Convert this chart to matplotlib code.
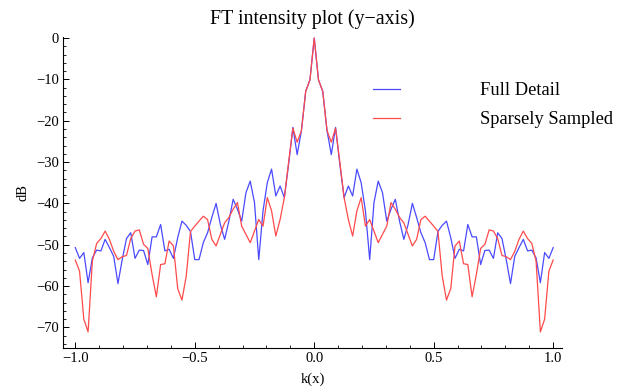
import numpy as np
import matplotlib
matplotlib.use("Agg")
import matplotlib.pyplot as plt
from matplotlib.ticker import MultipleLocator

# sample positions: k = n/56, n = -56..56
n_idx = np.arange(-56, 57)
kx = n_idx / 56.0

# Full Detail (blue), listed from k=-1 to k=+1
full_detail = [
    -50.7, -53.3, -51.9, -59.2, -53.2, -51.3, -51.5, -48.7, -50.7, -52.8,
    -59.4, -53.6, -48.5, -47.1, -53.3, -51.3, -51.4, -54.8, -48.1, -48.1,
    -45.1, -51.5, -51.1, -53.3, -48.3, -44.3, -45.3, -46.8, -53.6, -53.6,
    -49.5, -47.1, -43.4, -40.0, -45.1, -48.7, -44.3, -39.0, -41.4, -44.3,
    -37.4, -34.6, -39.8, -53.6, -41.8, -35.0, -31.7, -38.2, -35.8, -38.6,
    -30.5, -21.6, -28.2, -22.4, -12.9, -10.1,
    0.0,
    -10.1, -12.9, -22.4, -28.2, -21.6, -30.5, -38.6, -35.8, -38.2, -31.7,
    -35.0, -41.8, -53.6, -39.8, -34.6, -37.4, -44.3, -41.4, -39.0, -44.3,
    -48.7, -45.1, -40.0, -43.4, -47.1, -49.5, -53.6, -53.6, -46.8, -45.3,
    -44.3, -48.3, -53.3, -51.1, -51.5, -45.1, -48.1, -48.1, -54.8, -51.4,
    -51.3, -53.3, -47.1, -48.5, -53.6, -59.4, -52.8, -50.7, -48.7, -51.5,
    -51.3, -53.2, -59.2, -51.9, -53.3, -50.7,
]

# Sparsely Sampled (red), listed from k=-1 to k=+1
sparse = [
    -53.7, -56.4, -68.0, -71.1, -54.0, -49.7, -48.5, -46.7, -48.7, -51.6,
    -53.6, -52.9, -52.6, -48.5, -46.7, -46.4, -49.9, -50.9, -57.2, -62.6,
    -54.8, -54.6, -49.1, -50.3, -60.6, -63.4, -57.6, -46.8, -45.5, -44.3,
    -43.1, -43.9, -48.7, -50.3, -47.5, -44.7, -43.4, -41.4, -39.8, -45.5,
    -47.5, -49.5, -46.7, -43.9, -45.5, -38.6, -41.8, -47.9, -43.9, -38.6,
    -30.0, -21.8, -25.2, -22.4, -12.9, -10.1,
    0.0,
    -10.1, -12.9, -22.4, -25.2, -21.8, -30.0, -38.6, -43.9, -47.9, -41.8,
    -38.6, -45.5, -43.9, -46.7, -49.5, -47.5, -45.5, -39.8, -41.4, -43.4,
    -44.7, -47.5, -50.3, -48.7, -43.9, -43.1, -44.3, -45.5, -46.8, -57.6,
    -63.4, -60.6, -50.3, -49.1, -54.6, -54.8, -62.6, -57.2, -50.9, -49.9,
    -46.4, -46.7, -48.5, -52.6, -52.9, -53.6, -51.6, -48.7, -46.7, -48.5,
    -49.7, -54.0, -71.1, -68.0, -56.4, -53.7,
]

series_names = ["Full Detail", "Sparsely Sampled"]
x_ticks = [-1.0, -0.5, 0.0, 0.5, 1.0]
y_ticks = [0, -10, -20, -30, -40, -50, -60, -70]

plt.rcParams['font.family'] = ['Liberation Serif', 'DejaVu Serif']
plt.rcParams['axes.unicode_minus'] = True

fig = plt.figure(figsize=(6.21, 3.88), dpi=100)
ax = fig.add_axes([0.102, 0.103, 0.803, 0.802])

ax.plot(kx, full_detail, color='#4a4aff', lw=0.9, label=series_names[0])
ax.plot(kx, sparse, color='#ff4a4a', lw=0.9, label=series_names[1])

ax.set_xlim(-1.05, 1.037)
ax.set_ylim(-75, 0.3)

ax.spines['top'].set_visible(False)
ax.spines['right'].set_visible(False)
for s in ('left', 'bottom'):
    ax.spines[s].set_linewidth(0.8)

ax.set_xticks(x_ticks)
ax.set_xticklabels([f"{v:.1f}".replace('-', '\u2212') for v in x_ticks])
ax.set_yticks(y_ticks)
ax.set_yticklabels([str(v).replace('-', '\u2212') for v in y_ticks])
ax.xaxis.set_minor_locator(MultipleLocator(0.1))
ax.yaxis.set_minor_locator(MultipleLocator(2))
ax.tick_params(axis='both', which='major', direction='in', length=4.5, width=0.7,
               labelsize=10.5, pad=3)
ax.tick_params(axis='both', which='minor', direction='in', length=2.3, width=0.6)

ax.set_xlabel('k(x)', fontsize=10.5, labelpad=5)
ax.set_ylabel('dB', fontsize=10.5, labelpad=5)
ax.set_title('FT intensity plot (y\u2212axis)', fontsize=14.4, pad=9)

ax.legend(loc='upper left', bbox_to_anchor=(0.606, 0.878), frameon=False,
          handlelength=1.45, handletextpad=4.35, labelspacing=0.66, fontsize=13.3,
          borderaxespad=0)

fig.savefig('out.png', dpi=100)
